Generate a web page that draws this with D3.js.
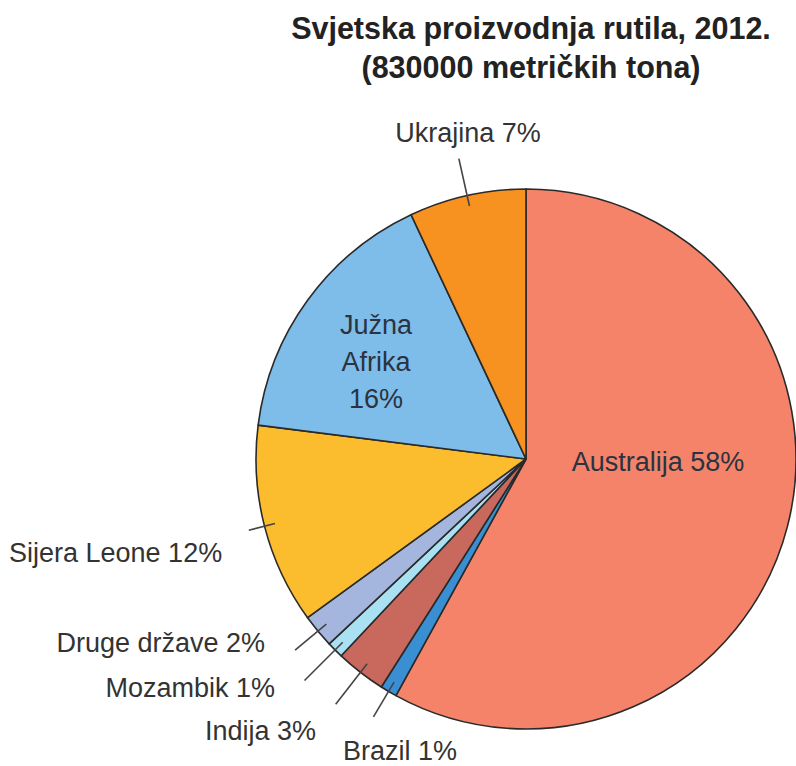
<!DOCTYPE html>
<html>
<head>
<meta charset="utf-8">
<script src="https://cdn.jsdelivr.net/npm/d3@7"></script>
<style>
  html, body { margin: 0; padding: 0; background: #fff; }
  text { font-family: "Liberation Sans Narrow", "Arial Narrow", "Liberation Sans", sans-serif; }
</style>
</head>
<body>
<div id="chart"></div>
<script>
// Data (clockwise from 12 o'clock)
const countries = ["Australija", "Brazil", "Indija", "Mozambik", "Druge države", "Sijera Leone", "Južna Afrika", "Ukrajina"];
const shares = [58, 1, 3, 1, 2, 12, 16, 7];
const colors = ["#f4836a", "#3a8fd3", "#c9695e", "#a9e1f3", "#a4b6de", "#fbbd2e", "#7ebde9", "#f7911f"];
const titleLines = ["Svjetska proizvodnja rutila, 2012.", "(830000 metričkih tona)"];

// Label placement (text anchor points, leader length as radius factor)
const labelLayout = {
  "Australija":   { x: 658, y: 471, anchor: "middle", inside: true },
  "Brazil":       { x: 343, y: 760, anchor: "start", lead: 1.11 },
  "Indija":       { x: 316, y: 740, anchor: "end", lead: 1.15 },
  "Mozambik":     { x: 275, y: 697, anchor: "end", lead: 1.16 },
  "Druge države": { x: 265, y: 652, anchor: "end", lead: 1.11 },
  "Sijera Leone": { x: 9,   y: 562, anchor: "start", lead: 1.06 },
  "Južna Afrika": { x: 376, y: 334, anchor: "middle", inside: true, lines: ["Južna", "Afrika"] },
  "Ukrajina":     { x: 468, y: 142, anchor: "middle", lead: 1.14 }
};

const width = 796, height = 766;
const cx = 526, cy = 459, radius = 270;

const svg = d3.select("#chart").append("svg")
  .attr("width", width)
  .attr("height", height);

// Title
svg.append("g").selectAll("text")
  .data(titleLines)
  .enter().append("text")
  .attr("x", 531)
  .attr("y", (d, i) => 39 + i * 39)
  .attr("text-anchor", "middle")
  .attr("font-size", 30.5)
  .attr("font-weight", "bold")
  .attr("fill", "#222")
  .text(d => d);

const data = countries.map((c, i) => ({ name: c, value: shares[i], color: colors[i] }));

const pie = d3.pie().sort(null).value(d => d.value);
const arc = d3.arc().innerRadius(0).outerRadius(radius);
const arcs = pie(data);

const g = svg.append("g").attr("transform", `translate(${cx},${cy})`);

// Slices
g.selectAll("path")
  .data(arcs)
  .enter().append("path")
  .attr("d", arc)
  .attr("fill", d => d.data.color)
  .attr("stroke", "#2a2a2a")
  .attr("stroke-width", 1.6)
  .attr("stroke-linejoin", "round");

// Leader lines for outside labels
const mid = d => (d.startAngle + d.endAngle) / 2;
const outside = arcs.filter(d => !labelLayout[d.data.name].inside);
g.selectAll("line.leader")
  .data(outside)
  .enter().append("line")
  .attr("class", "leader")
  .attr("x1", d => Math.sin(mid(d)) * radius * 0.96)
  .attr("y1", d => -Math.cos(mid(d)) * radius * 0.96)
  .attr("x2", d => Math.sin(mid(d)) * radius * labelLayout[d.data.name].lead)
  .attr("y2", d => -Math.cos(mid(d)) * radius * labelLayout[d.data.name].lead)
  .attr("stroke", "#444")
  .attr("stroke-width", 1.6);

// Labels
arcs.forEach(d => {
  const L = labelLayout[d.data.name];
  const lines = (L.lines ? L.lines.slice() : []);
  if (lines.length) lines.push(d.data.value + "%");
  else lines.push(d.data.name + " " + d.data.value + "%");
  const t = svg.append("text")
    .attr("text-anchor", L.anchor)
    .attr("font-size", 27)
    .attr("fill", L.inside ? "#2b3340" : "#333");
  lines.forEach((s, i) => {
    t.append("tspan").attr("x", L.x).attr("y", L.y + i * 37).text(s);
  });
});
</script>
</body>
</html>
